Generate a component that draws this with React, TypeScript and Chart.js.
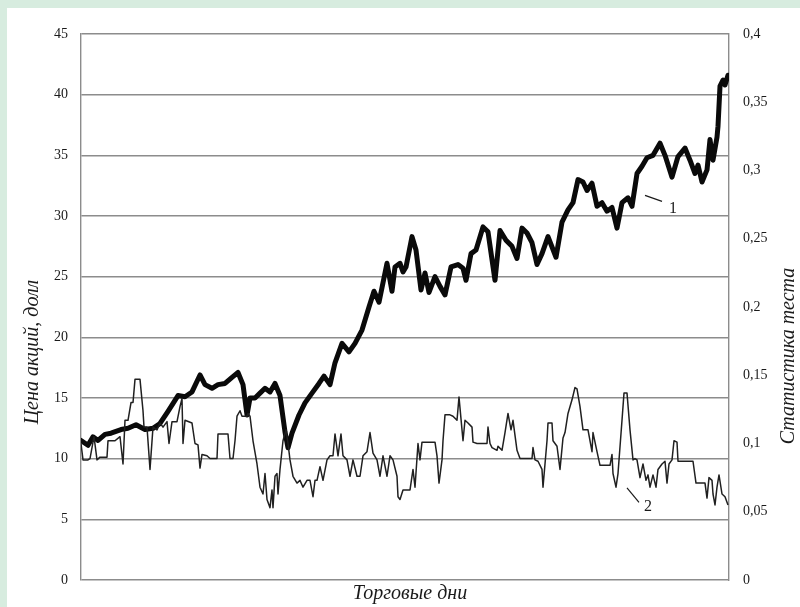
import { useEffect, useRef } from "react";
import { Chart, registerables } from "chart.js";

Chart.register(...registerables);

// Trading day index of each price observation
const priceDays = [
  0, 7, 12, 17, 24, 30, 40, 47, 55, 64,
  72, 79, 87, 97, 104, 111, 119, 124, 131, 137,
  144, 151, 157, 162, 166, 169, 174, 179, 184, 189,
  194, 199, 204, 207, 211, 218, 224, 231, 238, 243,
  249, 254, 261, 268, 274, 281, 288, 293, 298, 306,
  311, 314, 319, 322, 325, 331, 335, 340, 344, 348,
  354, 359, 364, 370, 377, 382, 385, 390, 395, 402,
  407, 414, 419, 425, 431, 436, 441, 446, 451, 456,
  461, 467, 475, 481, 487, 492, 497, 502, 506, 511,
  516, 521, 526, 531, 536, 541, 547, 551, 556, 561,
  566, 572, 579, 584, 591, 597, 604, 609, 614, 617,
  621, 626, 629, 632, 636, 637, 639, 642, 644, 647,
];

// Share price, USD
const priceValues = [
  11.5, 11.1, 11.8, 11.5, 12.0, 12.1, 12.4, 12.5, 12.8, 12.4,
  12.5, 12.9, 13.9, 15.2, 15.1, 15.5, 16.9, 16.1, 15.8, 16.1,
  16.2, 16.7, 17.1, 16.1, 13.6, 15.0, 15.0, 15.4, 15.8, 15.5,
  16.2, 15.2, 12.2, 10.9, 12.1, 13.6, 14.6, 15.4, 16.2, 16.8,
  16.1, 17.9, 19.5, 18.8, 19.5, 20.6, 22.5, 23.8, 22.9, 26.1,
  23.8, 25.8, 26.1, 25.4, 25.8, 28.3, 27.2, 23.9, 25.3, 23.7,
  25.0, 24.2, 23.5, 25.8, 26.0, 25.7, 24.7, 26.9, 27.2, 29.1,
  28.7, 24.7, 28.8, 28.0, 27.5, 26.5, 29.0, 28.6, 27.8, 26.0,
  26.9, 28.3, 26.6, 29.5, 30.5, 31.1, 33.0, 32.8, 32.1, 32.7,
  30.8, 31.1, 30.4, 30.7, 29.0, 31.1, 31.5, 30.8, 33.5, 34.1,
  34.8, 35.0, 36.0, 35.0, 33.2, 34.9, 35.6, 34.6, 33.5, 34.2,
  32.8, 33.8, 36.3, 34.6, 36.5, 37.4, 40.7, 41.2, 40.8, 41.6,
];

// Trading day index of each test statistic value
const statDays = [
  0, 2, 7, 9, 13, 16, 19, 26, 27, 34,
  39, 42, 44, 47, 50, 52, 54, 59, 62, 63,
  66, 69, 72, 76, 79, 82, 86, 88, 91, 96,
  99, 101, 102, 104, 111, 114, 117, 119, 121, 126,
  129, 136, 137, 147, 149, 152, 154, 156, 159, 161,
  166, 167, 169, 172, 176, 179, 182, 184, 186, 189,
  191, 192, 194, 196, 197, 199, 202, 205, 207, 209,
  212, 216, 219, 222, 226, 229, 232, 234, 236, 239,
  242, 246, 249, 252, 254, 257, 260, 262, 266, 269,
  272, 276, 279, 282, 286, 289, 292, 296, 299, 302,
  306, 309, 312, 316, 317, 319, 322, 329, 332, 334,
  337, 339, 341, 354, 356, 358, 361, 362, 364, 369,
  372, 376, 378, 380, 382, 384, 387, 391, 392, 396,
  406, 407, 409, 411, 416, 417, 421, 424, 427, 430,
  432, 436, 439, 451, 452, 454, 457, 461, 462, 466,
  467, 471, 472, 476, 479, 482, 484, 487, 491, 494,
  496, 499, 502, 507, 511, 512, 516, 519, 529, 531,
  532, 535, 537, 541, 543, 546, 549, 552, 554, 556,
  559, 562, 565, 567, 569, 572, 575, 577, 581, 584,
  586, 588, 591, 593, 596, 597, 612, 615, 624, 626,
  628, 631, 632, 634, 636, 638, 641, 644, 647,
];

// Test statistic
const statValues = [
  0.100, 0.088, 0.088, 0.089, 0.105, 0.088, 0.090, 0.090, 0.102, 0.102,
  0.105, 0.085, 0.117, 0.117, 0.130, 0.130, 0.147, 0.147, 0.124, 0.112,
  0.112, 0.081, 0.112, 0.110, 0.115, 0.112, 0.116, 0.100, 0.116, 0.116,
  0.127, 0.133, 0.100, 0.117, 0.115, 0.100, 0.099, 0.082, 0.092, 0.091,
  0.089, 0.089, 0.107, 0.107, 0.089, 0.089, 0.102, 0.120, 0.124, 0.120,
  0.120, 0.122, 0.120, 0.102, 0.085, 0.068, 0.063, 0.078, 0.059, 0.053,
  0.066, 0.053, 0.076, 0.078, 0.063, 0.081, 0.102, 0.110, 0.100, 0.088,
  0.076, 0.071, 0.073, 0.068, 0.073, 0.073, 0.061, 0.073, 0.073, 0.083,
  0.073, 0.088, 0.091, 0.091, 0.107, 0.091, 0.107, 0.091, 0.088, 0.076,
  0.088, 0.076, 0.076, 0.091, 0.094, 0.108, 0.093, 0.088, 0.076, 0.091,
  0.076, 0.091, 0.088, 0.076, 0.061, 0.059, 0.066, 0.066, 0.081, 0.068,
  0.100, 0.088, 0.101, 0.101, 0.091, 0.071, 0.088, 0.102, 0.121, 0.121,
  0.120, 0.117, 0.134, 0.118, 0.102, 0.117, 0.115, 0.112, 0.101, 0.100,
  0.100, 0.112, 0.100, 0.097, 0.095, 0.098, 0.095, 0.108, 0.122, 0.110,
  0.117, 0.095, 0.089, 0.089, 0.097, 0.088, 0.087, 0.081, 0.068, 0.102,
  0.115, 0.115, 0.102, 0.098, 0.081, 0.104, 0.108, 0.122, 0.132, 0.141,
  0.140, 0.127, 0.110, 0.110, 0.094, 0.108, 0.094, 0.084, 0.084, 0.092,
  0.078, 0.068, 0.078, 0.117, 0.137, 0.137, 0.110, 0.088, 0.089, 0.088,
  0.075, 0.085, 0.073, 0.077, 0.068, 0.077, 0.068, 0.081, 0.085, 0.087,
  0.071, 0.085, 0.088, 0.102, 0.101, 0.087, 0.087, 0.071, 0.071, 0.060,
  0.075, 0.073, 0.063, 0.055, 0.068, 0.077, 0.063, 0.061, 0.055,
];

const xTitle = "Торговые дни";
const priceTitle = "Цена акций, долл";
const statTitle = "Статистика теста";

// Curve numbers with their leader strokes, in (day, price) units
const curveTags = [
  { text: "1", from: [564, 31.7], to: [581, 31.2], at: [592, 30.6] },
  { text: "2", from: [546, 7.6], to: [558, 6.4], at: [567, 6.0] },
];

const SERIF = "'Liberation Serif', 'Times New Roman', serif";
const GRID = "#8c8c8c";
const INK = "#1a1a1a";

const zip = (xs: number[], ys: number[]) =>
  xs.slice(0, Math.min(xs.length, ys.length)).map((x, i) => ({ x, y: ys[i] }));

const framePlugin = {
  id: "frame",
  beforeDraw(chart: any) {
    const { ctx, width, height } = chart;
    ctx.save();
    ctx.fillStyle = "#d7ecdf";
    ctx.fillRect(0, 0, width, height);
    ctx.fillStyle = "#ffffff";
    ctx.fillRect(7, 8, width - 7, height - 8);
    ctx.restore();
  },
};

const textPlugin = {
  id: "axisText",
  afterDraw(chart: any) {
    const { ctx, chartArea } = chart;
    const xs = chart.scales.x;
    const ys = chart.scales.y;
    ctx.save();
    ctx.fillStyle = INK;
    ctx.font = `italic 20px ${SERIF}`;
    ctx.textAlign = "center";
    ctx.textBaseline = "middle";
    ctx.fillText(xTitle, (chartArea.left + chartArea.right) / 2 + 5, chartArea.bottom + 14);

    ctx.save();
    ctx.translate(chartArea.left - 48, chartArea.top + 318);
    ctx.rotate(-Math.PI / 2);
    ctx.fillText(priceTitle, 0, 0);
    ctx.restore();

    ctx.save();
    ctx.translate(chartArea.right + 60, chartArea.top + 322);
    ctx.rotate(-Math.PI / 2);
    ctx.fillText(statTitle, 0, 0);
    ctx.restore();

    ctx.strokeStyle = INK;
    ctx.lineWidth = 1.2;
    ctx.font = `16px ${SERIF}`;
    for (const t of curveTags) {
      ctx.beginPath();
      ctx.moveTo(xs.getPixelForValue(t.from[0]), ys.getPixelForValue(t.from[1]));
      ctx.lineTo(xs.getPixelForValue(t.to[0]), ys.getPixelForValue(t.to[1]));
      ctx.stroke();
      ctx.fillText(t.text, xs.getPixelForValue(t.at[0]), ys.getPixelForValue(t.at[1]));
    }
    ctx.restore();
  },
};

export default function App() {
  const ref = useRef<HTMLCanvasElement | null>(null);

  useEffect(() => {
    if (!ref.current) return;
    const chart = new Chart(ref.current, {
      type: "line",
      data: {
        datasets: [
          {
            label: "2",
            data: zip(statDays, statValues),
            yAxisID: "y1",
            borderColor: "#202020",
            borderWidth: 1.5,
            pointRadius: 0,
            tension: 0,
            borderJoinStyle: "round",
          },
          {
            label: "1",
            data: zip(priceDays, priceValues),
            yAxisID: "y",
            borderColor: "#0a0a0a",
            borderWidth: 5,
            pointRadius: 0,
            tension: 0,
            borderJoinStyle: "round",
            borderCapStyle: "round",
          },
        ],
      },
      options: {
        responsive: false,
        animation: false,
        devicePixelRatio: 1,
        layout: { padding: { left: 41, right: 31, top: 34, bottom: 27 } },
        plugins: { legend: { display: false }, tooltip: { enabled: false } },
        scales: {
          x: { type: "linear", min: 0, max: 648, display: false },
          y: {
            position: "left",
            min: 0,
            max: 45,
            afterFit: (s: any) => { s.width = 40; },
            ticks: {
              stepSize: 5,
              padding: 13,
              color: INK,
              font: { family: SERIF, size: 14 },
            },
            grid: { color: GRID, lineWidth: 1.4, drawTicks: false },
            border: { display: true, color: GRID, width: 1.4 },
          },
          y1: {
            position: "right",
            min: 0,
            max: 0.4,
            afterFit: (s: any) => { s.width = 40; },
            ticks: {
              stepSize: 0.05,
              padding: 14,
              color: INK,
              font: { family: SERIF, size: 14 },
              callback: (v: any) => String(Number(Number(v).toFixed(2))).replace(".", ","),
            },
            grid: { display: false, drawTicks: false },
            border: { display: true, color: GRID, width: 1.4 },
          },
        },
      },
      plugins: [framePlugin, textPlugin],
    });
    return () => chart.destroy();
  }, []);

  return (
    <div style={{ position: "fixed", left: 0, top: 0, width: 800, height: 607 }}>
      <canvas ref={ref} width={800} height={607} style={{ display: "block" }} />
    </div>
  );
}
